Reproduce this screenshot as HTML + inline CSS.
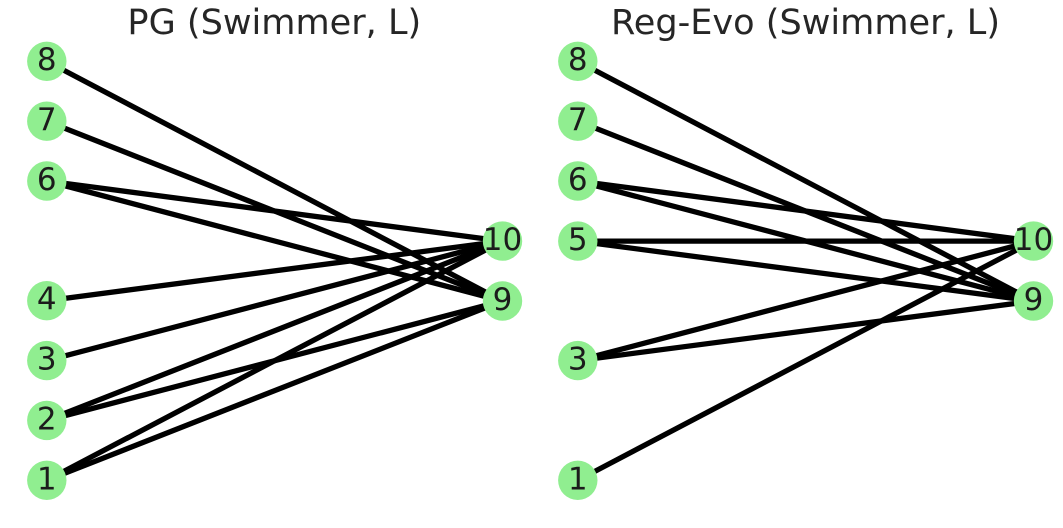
<!DOCTYPE html>
<html>
<head>
<meta charset="utf-8">
<style>
html,body{margin:0;padding:0;background:#fff;width:1063px;height:528px;overflow:hidden}
svg{display:block}
text{font-family:"DejaVu Sans","Liberation Sans",sans-serif;text-anchor:middle}
.t{font-size:35.1px;fill:#262626}
.n{font-size:31px;fill:#1c1c1c}
line{stroke:#000;stroke-width:5.3}
circle{fill:#90ee90}
</style>
</head>
<body>
<svg width="1063" height="528" viewBox="0 0 1063 528" xmlns="http://www.w3.org/2000/svg">
<text class="t" x="274.3" y="34">PG (Swimmer, L)</text>
<text class="t" x="805.5" y="34">Reg-Evo (Swimmer, L)</text>

<!-- left edges -->
<line x1="46.8" y1="61.3" x2="502.5" y2="301"/>
<line x1="46.8" y1="121.2" x2="502.5" y2="301"/>
<line x1="46.8" y1="181" x2="502.5" y2="241.1"/>
<line x1="46.8" y1="181" x2="502.5" y2="301"/>
<line x1="46.8" y1="300.7" x2="502.5" y2="241.1"/>
<line x1="46.8" y1="360.6" x2="502.5" y2="241.1"/>
<line x1="46.8" y1="420.4" x2="502.5" y2="241.1"/>
<line x1="46.8" y1="420.4" x2="502.5" y2="301"/>
<line x1="46.8" y1="480.3" x2="502.5" y2="241.1"/>
<line x1="46.8" y1="480.3" x2="502.5" y2="301"/>

<!-- right edges -->
<line x1="577.8" y1="61.3" x2="1033.5" y2="301"/>
<line x1="577.8" y1="121.2" x2="1033.5" y2="301"/>
<line x1="577.8" y1="181" x2="1033.5" y2="241.1"/>
<line x1="577.8" y1="181" x2="1033.5" y2="301"/>
<line x1="577.8" y1="241.1" x2="1033.5" y2="241.1"/>
<line x1="577.8" y1="241.1" x2="1033.5" y2="301"/>
<line x1="577.8" y1="360.6" x2="1033.5" y2="241.1"/>
<line x1="577.8" y1="360.6" x2="1033.5" y2="301"/>
<line x1="577.8" y1="480.3" x2="1033.5" y2="241.1"/>

<!-- left nodes -->
<circle cx="46.8" cy="61.3" r="19.7"/>
<circle cx="46.8" cy="121.2" r="19.7"/>
<circle cx="46.8" cy="181" r="19.7"/>
<circle cx="46.8" cy="300.7" r="19.7"/>
<circle cx="46.8" cy="360.6" r="19.7"/>
<circle cx="46.8" cy="420.4" r="19.7"/>
<circle cx="46.8" cy="480.3" r="19.7"/>
<circle cx="502.5" cy="241.1" r="19.7"/>
<circle cx="502.5" cy="301" r="19.7"/>

<!-- right nodes -->
<circle cx="577.8" cy="61.3" r="19.7"/>
<circle cx="577.8" cy="121.2" r="19.7"/>
<circle cx="577.8" cy="181" r="19.7"/>
<circle cx="577.8" cy="241.1" r="19.7"/>
<circle cx="577.8" cy="360.6" r="19.7"/>
<circle cx="577.8" cy="480.3" r="19.7"/>
<circle cx="1033.5" cy="241.1" r="19.7"/>
<circle cx="1033.5" cy="301" r="19.7"/>

<!-- left labels -->
<text class="n" x="46.8" y="70">8</text>
<text class="n" x="46.8" y="130">7</text>
<text class="n" x="46.8" y="190">6</text>
<text class="n" x="46.8" y="309.5">4</text>
<text class="n" x="46.8" y="369.5">3</text>
<text class="n" x="46.8" y="429.5">2</text>
<text class="n" x="46.8" y="489.5">1</text>
<text class="n" x="502.5" y="250">10</text>
<text class="n" x="502.5" y="310">9</text>

<!-- right labels -->
<text class="n" x="577.8" y="70">8</text>
<text class="n" x="577.8" y="130">7</text>
<text class="n" x="577.8" y="190">6</text>
<text class="n" x="577.8" y="250">5</text>
<text class="n" x="577.8" y="369.5">3</text>
<text class="n" x="577.8" y="489.5">1</text>
<text class="n" x="1033.5" y="250">10</text>
<text class="n" x="1033.5" y="310">9</text>
</svg>
</body>
</html>
